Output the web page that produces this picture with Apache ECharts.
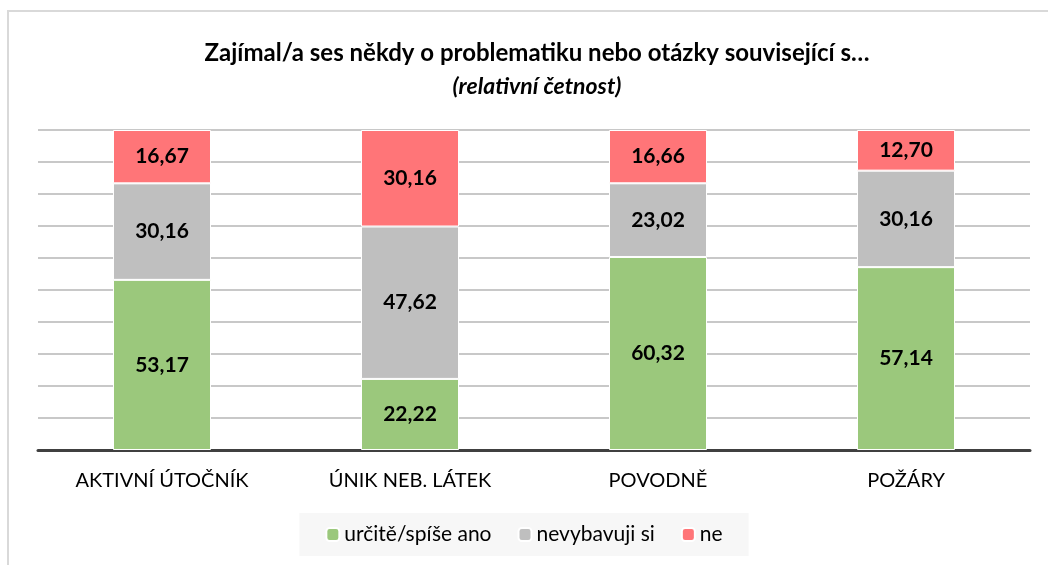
<!DOCTYPE html>
<html>
<head>
<meta charset="utf-8">
<script src="https://cdn.jsdelivr.net/npm/echarts@6/dist/echarts.min.js"></script>
<style>
  html, body { margin: 0; padding: 0; background: #fff; }
  #chart { width: 1048px; height: 565px; }
</style>
</head>
<body>
<div id="chart"></div>
<script>
var categories = ['AKTIVNÍ ÚTOČNÍK', 'ÚNIK NEB. LÁTEK', 'POVODNĚ', 'POŽÁRY'];
var seriesNames = ['určitě/spíše ano', 'nevybavuji si', 'ne'];
var ano = [53.17, 22.22, 60.32, 57.14];
var nevim = [30.16, 47.62, 23.02, 30.16];
var ne = [16.67, 30.16, 16.66, 12.70];
var colors = ['#9BC87C', '#BFBFBF', '#FF7578'];

var font = 'Lato, "Open Sans", sans-serif';

function makeSeries(name, data, color) {
  return {
    name: name,
    type: 'bar',
    stack: 'total',
    barWidth: 98,
    data: data,
    itemStyle: { color: color, borderColor: '#fff', borderWidth: 1 },
    label: {
      show: true,
      position: 'inside',
      color: '#000',
      fontWeight: 'bold',
      fontSize: 21,
      fontFamily: font,
      formatter: function (p) { return p.value.toFixed(2).replace('.', ','); }
    }
  };
}

var option = {
  animation: false,
  textStyle: { fontFamily: font },
  graphic: [
    {
      type: 'rect',
      shape: { x: 8, y: 11, width: 1200, height: 700 },
      style: { fill: 'none', stroke: '#d9d9d9', lineWidth: 2 },
      z: -1
    }
  ],
  title: {
    text: 'Zajímal/a ses někdy o problematiku nebo otázky související s…',
    subtext: '(relativní četnost)',
    left: 532,
    textAlign: 'center',
    top: 36,
    itemGap: 10,
    textStyle: { fontSize: 24, fontWeight: 'bold', color: '#000', fontFamily: font },
    subtextStyle: { fontSize: 23, fontWeight: 'bold', fontStyle: 'italic', color: '#000', fontFamily: font }
  },
  legend: {
    data: seriesNames,
    left: 'center',
    top: 513,
    itemWidth: 13,
    itemHeight: 13,
    itemGap: 26,
    padding: [11, 26, 11, 26],
    backgroundColor: '#f7f7f7',
    textStyle: { fontSize: 21, color: '#000', fontFamily: font }
  },
  grid: { left: 38, right: 18, top: 130, bottom: 115 },
  xAxis: {
    type: 'category',
    data: categories,
    axisLine: { lineStyle: { color: '#404040', width: 3 } },
    axisTick: { show: false },
    axisLabel: { fontSize: 20, color: '#000', margin: 21, fontFamily: font }
  },
  yAxis: {
    type: 'value',
    min: 0,
    max: 100,
    interval: 10,
    axisLabel: { show: false },
    axisLine: { show: false },
    axisTick: { show: false },
    splitLine: { lineStyle: { color: '#c8c8c8', width: 2 } }
  },
  series: [
    makeSeries(seriesNames[0], ano, colors[0]),
    makeSeries(seriesNames[1], nevim, colors[1]),
    makeSeries(seriesNames[2], ne, colors[2])
  ]
};

var myChart = echarts.init(document.getElementById('chart'));
myChart.setOption(option);
</script>
</body>
</html>
